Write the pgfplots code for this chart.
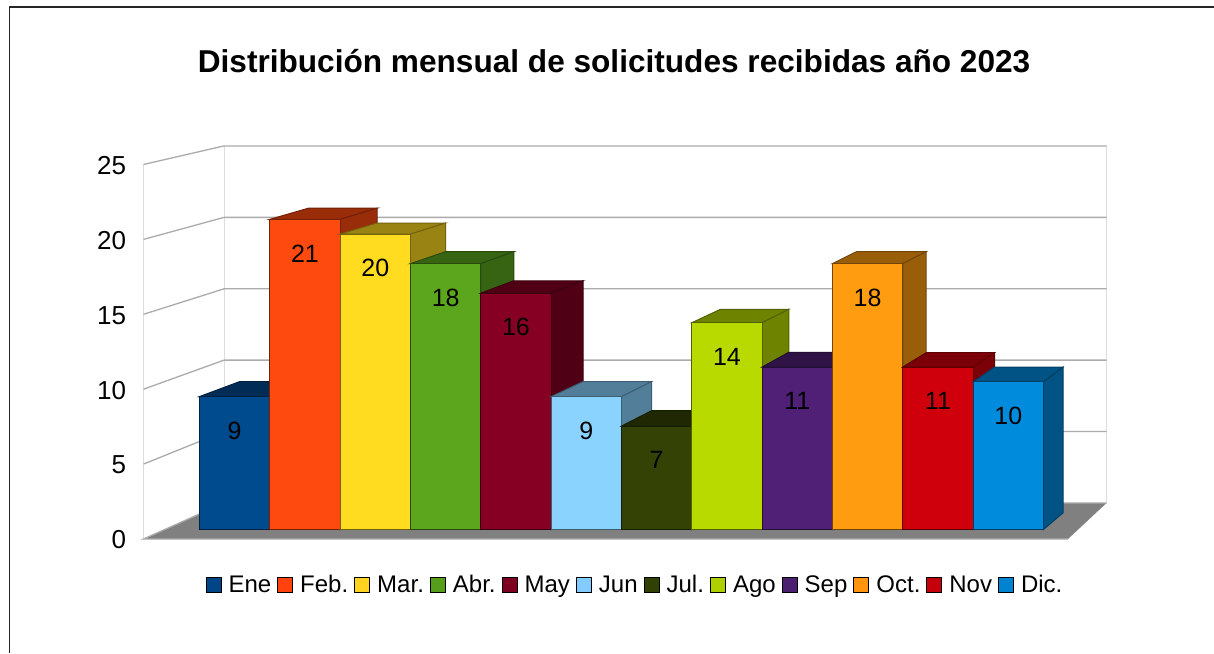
\documentclass[border=0pt]{standalone}
\usepackage{pgfplots}
\pgfplotsset{compat=1.18}
\usepackage{fontspec}
\setmainfont{Liberation Sans}
\definecolor{EneL}{HTML}{004586}\definecolor{EneF}{HTML}{004A8E}
\definecolor{FebL}{HTML}{FF420E}\definecolor{FebF}{HTML}{FF4A0F}
\definecolor{MarL}{HTML}{FFD320}\definecolor{MarF}{HTML}{FFDC20}
\definecolor{AbrL}{HTML}{579D1C}\definecolor{AbrF}{HTML}{5CA61E}
\definecolor{MayL}{HTML}{7E0021}\definecolor{MayF}{HTML}{850023}
\definecolor{JunL}{HTML}{83CAFF}\definecolor{JunF}{HTML}{8AD2FF}
\definecolor{JulL}{HTML}{314004}\definecolor{JulF}{HTML}{344305}
\definecolor{AgoL}{HTML}{AECF00}\definecolor{AgoF}{HTML}{B8DA00}
\definecolor{SepL}{HTML}{4B1F6F}\definecolor{SepF}{HTML}{4F2075}
\definecolor{OctL}{HTML}{FF950E}\definecolor{OctF}{HTML}{FF9C0F}
\definecolor{NovL}{HTML}{C5000B}\definecolor{NovF}{HTML}{CF000C}
\definecolor{DicL}{HTML}{0084D1}\definecolor{DicF}{HTML}{008BDC}
\definecolor{gridc}{HTML}{ABABAB}
\definecolor{wallc}{HTML}{DDDDDD}
% #1 position, #2 left, #3 right, #4 value, #5 back left, #6 back right, #7 back value, #8 colour
\newcommand{\OneBar}[8]{%
  \addplot[forget plot,fill=#8F!60!black,draw=#8F!45!black,line width=1pt]
    coordinates {(#2,#4) (#3,#4) (#6,#7) (#5,#7)} -- cycle;
  \addplot[forget plot,fill=#8F!60!black,draw=#8F!45!black,line width=1pt]
    coordinates {(#3,0) (#6,1.14) (#6,#7) (#3,#4)} -- cycle;
  \addplot[forget plot,ybar,bar width=70.33pt,bar shift=0pt,fill=#8F,draw=#8F!45!black,line width=1pt,
    nodes near coords,
    every node near coord/.append style={anchor=center,yshift=-34pt,text=black,
      font=\fontsize{25}{28}\selectfont,/pgf/number format/assume math mode=true}]
    coordinates {(#1,#4)};
  \addlegendimage{legend image code/.code={\draw[fill=#8L,draw=black,line width=1pt] (0pt,-6.5pt) rectangle (15pt,8.5pt);}}
}
\begin{document}
\begin{tikzpicture}[x=1pt,y=1pt]
\useasboundingbox (0,0) rectangle (1214,653);
\fill[white] (0,0) rectangle (1214,653);
\draw[line width=1.1pt,color=black!85] (9.5,0) -- (9.5,646) -- (1214,646);
\begin{axis}[
  at={(143.5pt,114pt)},anchor=south west,scale only axis,
  width=963pt,height=374.5pt,
  xmin=143.5,xmax=1106.5,ymin=0,ymax=25,clip=false,
  axis x line=none,axis y line*=left,y axis line style={draw=none},
  ytick={0,5,10,15,20,25},major tick length=0pt,
  yticklabel style={font=\fontsize{26}{29}\selectfont,xshift=-14pt,yshift=-1pt,/pgf/number format/assume math mode=true},
]
\addplot[forget plot,fill=black!50,draw=none] coordinates {(143.5,0) (224,2.403) (1106.5,2.403) (1068,0)} -- cycle;
\addplot[forget plot,wallc,line width=1pt] coordinates {(143.5,0) (143.5,25)};
\addplot[forget plot,wallc,line width=1pt] coordinates {(224,2.403) (224,26.24)};
\addplot[forget plot,wallc,line width=1pt] coordinates {(1106.5,2.403) (1106.5,26.24)};
\addplot[forget plot,gridc,line width=1.3pt] coordinates {(1068,0) (143.5,0) (224,2.403) (1106.5,2.403)};
\addplot[forget plot,gridc,line width=1.3pt] coordinates {(143.5,5) (224,7.17) (1106.5,7.17)};
\addplot[forget plot,gridc,line width=1.3pt] coordinates {(143.5,10) (224,11.94) (1106.5,11.94)};
\addplot[forget plot,gridc,line width=1.3pt] coordinates {(143.5,15) (224,16.70) (1106.5,16.70)};
\addplot[forget plot,gridc,line width=1.3pt] coordinates {(143.5,20) (224,21.47) (1106.5,21.47)};
\addplot[forget plot,gridc,line width=1.3pt] coordinates {(143.5,25) (224,26.24) (1106.5,26.24)};
\end{axis}
\begin{axis}[
  at={(0.5pt,0pt)},anchor=south west,scale only axis,
  width=1214pt,height=653pt,
  xmin=-2.3295,xmax=14.932,ymin=-8.362,ymax=35.85,clip=false,
  axis lines=none,
  title={\fontsize{31.6}{36}\selectfont\bfseries Distribución mensual de solicitudes recibidas año 2023},
  title style={at={(axis description cs:0.5054,0.897)},anchor=center},
  legend columns=12,
  legend style={at={(axis description cs:0.5218,0.102)},anchor=center,draw=none,fill=none,
    font=\fontsize{24}{27}\selectfont,inner sep=0pt,
    /tikz/every even column/.append style={column sep=6pt},
    /tikz/every odd column/.append style={column sep=7pt},
    nodes={inner sep=0pt,text height=17pt,text depth=5pt}},
  legend cell align=left,
]
\OneBar{1}{0.5}{1.5}{9}{1.069}{2.046}{10.01}{Ene}
\addlegendentry{Ene}
\OneBar{2}{1.5}{2.5}{21}{2.046}{3.024}{21.75}{Feb}
\addlegendentry{Feb.}
\OneBar{3}{2.5}{3.5}{20}{3.024}{3.998}{20.75}{Mar}
\addlegendentry{Mar.}
\OneBar{4}{3.5}{4.5}{18}{3.998}{4.969}{18.81}{Abr}
\addlegendentry{Abr.}
\OneBar{5}{4.5}{5.5}{16}{4.969}{5.953}{16.84}{May}
\addlegendentry{May}
\OneBar{6}{5.5}{6.5}{9}{5.953}{6.927}{10.01}{Jun}
\addlegendentry{Jun}
\OneBar{7}{6.5}{7.5}{7}{6.927}{7.908}{8.04}{Jul}
\addlegendentry{Jul.}
\OneBar{8}{7.5}{8.5}{14}{7.908}{8.879}{14.91}{Ago}
\addlegendentry{Ago}
\OneBar{9}{8.5}{9.5}{11}{8.879}{9.842}{12.0}{Sep}
\addlegendentry{Sep}
\OneBar{10}{9.5}{10.5}{18}{9.842}{10.833}{18.81}{Oct}
\addlegendentry{Oct.}
\OneBar{11}{10.5}{11.5}{11}{10.833}{11.804}{11.97}{Nov}
\addlegendentry{Nov}
\OneBar{12}{11.5}{12.5}{10}{11.804}{12.781}{11.0}{Dic}
\addlegendentry{Dic.}
\end{axis}
\end{tikzpicture}
\end{document}
